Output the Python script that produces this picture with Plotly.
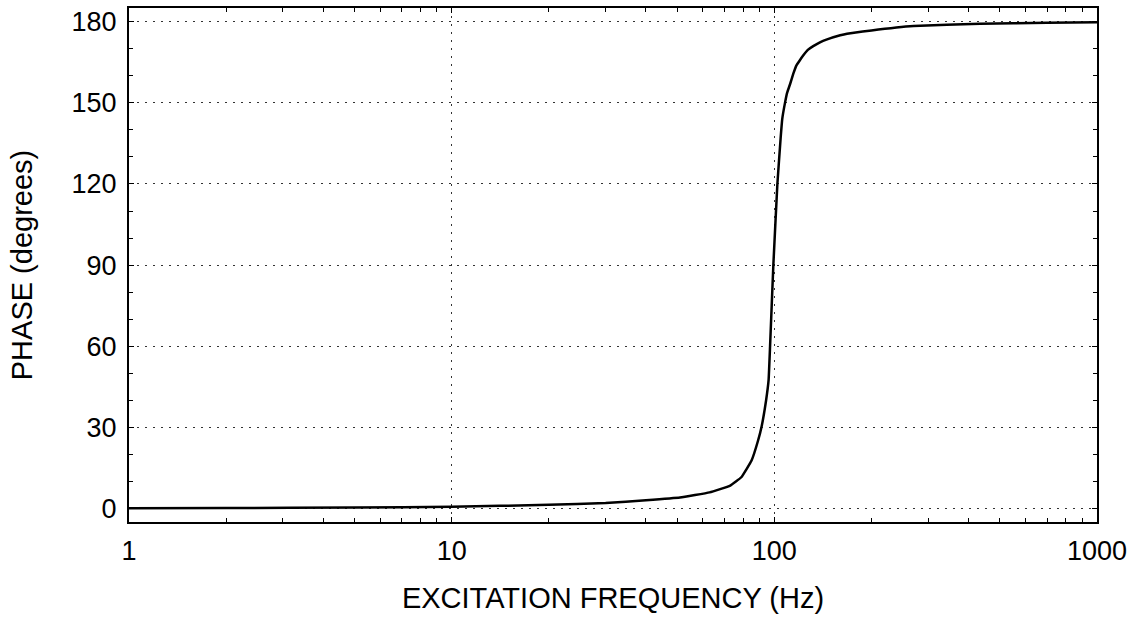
import plotly.graph_objects as go

freq_hz = [1, 2, 5, 10, 20, 30, 40, 51, 63, 73, 79, 85, 89, 91.4, 94.3, 96, 97,
           99.3, 102.2, 104.6, 105.8, 107.9, 109.6, 111.8, 114.5, 117, 120, 123,
           127, 132, 138.5, 145, 160, 168, 200, 270, 434, 700, 1000]
phase_deg = [0, 0.1, 0.3, 0.6, 1.3, 2.0, 3.0, 4.0, 5.9, 8.4, 11.5, 17.7, 25,
             30.5, 40, 47.5, 60, 90, 120, 137, 144, 150, 153.8, 156.8, 160.8,
             163.8, 165.8, 167.6, 169.6, 171.0, 172.4, 173.4, 175.0, 175.6,
             176.8, 178.4, 179.3, 179.6, 179.8]

x_ticks = [1, 10, 100, 1000]
x_tick_text = ["1", "10", "100", "1000"]
y_ticks = [0, 30, 60, 90, 120, 150, 180]

fig = go.Figure()
fig.add_trace(go.Scatter(x=freq_hz, y=phase_deg, mode="lines",
                         line=dict(color="black", width=2.5, shape="spline", smoothing=0.3),
                         showlegend=False))

font = dict(family="Liberation Sans, Arial, sans-serif", size=27, color="black")

fig.update_layout(
    width=1138, height=624,
    margin=dict(l=129, r=41, t=6, b=102),
    paper_bgcolor="white", plot_bgcolor="white",
    font=font,
)
fig.update_xaxes(
    type="log", range=[0, 3],
    tickvals=x_ticks, ticktext=x_tick_text,
    ticks="inside", ticklen=5, tickcolor="black",
    ticklabelstandoff=4,
    showline=True, linewidth=2, linecolor="black", mirror="allticks",
    showgrid=True, gridcolor="#333", griddash="1.5px,6.5px", gridwidth=1.2,
    zeroline=False,
    minor=dict(ticks="inside", ticklen=4, tickcolor="black", dtick="D1", showgrid=False),
    title=dict(text="EXCITATION FREQUENCY (Hz)", font=dict(size=29), standoff=22),
    tickfont=dict(size=27),
)
fig.update_yaxes(
    range=[-5.05, 185.1],
    tickvals=y_ticks,
    ticks="inside", ticklen=5, tickcolor="black",
    ticklabelstandoff=5,
    showline=True, linewidth=2, linecolor="black", mirror="allticks",
    showgrid=True, gridcolor="#333", griddash="1.5px,6.5px", gridwidth=1.2,
    zeroline=False,
    minor=dict(ticks="inside", ticklen=4, tickcolor="black", dtick=10, showgrid=False),
    title=dict(text="PHASE (degrees)", font=dict(size=29), standoff=30),
    tickfont=dict(size=27),
)

fig.write_html("out.html")
